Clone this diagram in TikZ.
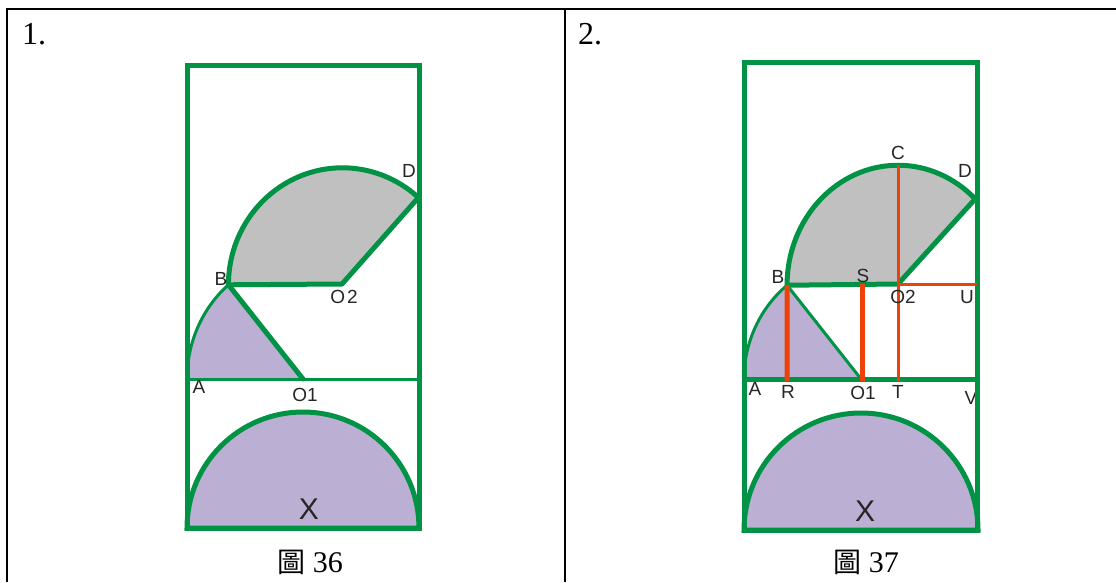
\documentclass[tikz,border=0pt]{standalone}
\usepackage{fontspec}
\setmainfont{Liberation Serif}
\newfontfamily\labfont{Liberation Sans}
\newfontfamily\cjkfont{Noto Sans CJK TC}
\definecolor{grn}{RGB}{0,146,69}
\definecolor{lav}{RGB}{187,176,212}
\definecolor{gry}{RGB}{192,192,192}
\definecolor{rd}{RGB}{236,66,10}
\begin{document}
\begin{tikzpicture}[x=1pt,y=-1pt,
 thickg/.style={draw=grn,line width=5pt},
 thing/.style={draw=grn,line width=3pt},
 thickr/.style={draw=rd,line width=5pt},
 thinr/.style={draw=rd,line width=3pt},
 lbl/.style={inner sep=0pt,text=black!85,font=\labfont\fontsize{19}{19}\selectfont},
 bigl/.style={inner sep=0pt,text=black!85,font=\labfont\fontsize{30}{30}\selectfont},
 numl/.style={inner sep=0pt,anchor=base west,font=\fontsize{32}{32}\selectfont},
 capl/.style={inner sep=0pt,anchor=base,font=\fontsize{30}{30}\selectfont},
 tbl/.style={draw=black,line width=2pt}]
\useasboundingbox (0,0) rectangle (1116,582);
% table
\coordinate (TL) at (7,9); \coordinate (TR) at (1116,9);
\coordinate (BL) at (7,582); \coordinate (MT) at (565,9); \coordinate (MB) at (565,582);
\draw[tbl] (BL) -- (TL) -- (TR);
\draw[tbl] (MT) -- (MB);
\node[numl] (n1) at (22,44) {1.};
\node[numl] (n2) at (578,44) {2.};
\node[capl] (c36) at (310,572) {{\cjkfont\fontsize{28}{28}\selectfont 圖} 36};
\node[capl] (c37) at (866,572) {{\cjkfont\fontsize{28}{28}\selectfont 圖} 37};

% ---------- figure 1 ----------
\coordinate (aO1) at (303,379); \coordinate (aA) at (187,379);
\fill[lav] (aO1) -- (aA) arc[start angle=180,end angle=230,x radius=116,y radius=123] coordinate (aB) -- cycle;
\draw[thing] (aA) arc[start angle=180,end angle=230,x radius=116,y radius=123];
\coordinate (aO2) at (342,284);
\filldraw[fill=gry,thickg,line join=round] (aO2) -- (aB) arc[start angle=180,end angle=311.8,x radius=114,y radius=117] coordinate (aD) -- cycle;
\draw[thickg,line cap=round] (aB) -- (aO1);
\coordinate (aXl) at (187,528);
\filldraw[fill=lav,thickg] (aXl) arc[start angle=180,end angle=360,radius=116] -- cycle;
\draw[thickg] (187,65) rectangle (419,528);
\coordinate (aL) at (187,379); \coordinate (aR) at (419,379);
\draw[thing] (aL) -- (aR);
\node[lbl] (laD) at (409,171) {D};
\node[lbl] (laB) at (221,279) {B};
\node[lbl] (laO2) at (344,297) {O\kern2pt2};
\node[lbl] (laA) at (199,387) {A};
\node[lbl] (laO1) at (305,395) {O1};
\node[bigl] (laX) at (309,509) {X};

% ---------- figure 2 ----------
\coordinate (bO1) at (861,379); \coordinate (bA) at (744,379);
\fill[lav] (bO1) -- (bA) arc[start angle=180,end angle=230.8,x radius=117,y radius=121] coordinate (bB) -- cycle;
\draw[thing] (bA) arc[start angle=180,end angle=230.8,x radius=117,y radius=121];
\coordinate (bO2) at (898,284);
\fill[gry] (bO2) -- (bB) arc[start angle=180,end angle=314,x radius=111,y radius=120] coordinate (bD) -- cycle;
\draw[thickg,line join=round] (bO2) -- (bB) arc[start angle=180,end angle=314,x radius=111,y radius=120] -- cycle;
\draw[thing,line cap=round] (bB) -- (bO1);
\coordinate (bXl) at (744,530);
\filldraw[fill=lav,thickg] (bXl) arc[start angle=180,end angle=360,radius=117] -- cycle;
\node[lbl] (lbV) at (971,398) {V};
\draw[thickg] (744,62) rectangle (977,530);
\coordinate (bL) at (744,379); \coordinate (bR) at (977,379);
\draw[thickg] (bL) -- (bR);
% red lines
\coordinate (bRr) at (787,381); \coordinate (bS) at (862,284); \coordinate (bSb) at (862,381);
\coordinate (bC) at (898,165); \coordinate (bT) at (898,381); \coordinate (bU) at (977,284);
\draw[thickr] (bB) -- (bRr);
\draw[thickr] (bS) -- (bSb);
\draw[thinr] (bC) -- (bT);
\draw[thinr] (bO2) -- (bU);
\node[lbl] (lbC) at (898,153) {C};
\node[lbl] (lbD) at (965,171) {D};
\node[lbl] (lbB) at (778,277) {B};
\node[lbl] (lbS) at (863,276) {S};
\node[lbl] (lbO2) at (903,297) {O2};
\node[lbl] (lbU) at (967,297) {U};
\node[lbl] (lbA) at (755,389) {A};
\node[lbl] (lbR) at (788,392) {R};
\node[lbl] (lbO1) at (863,393) {O1};
\node[lbl] (lbT) at (898,392) {T};
\node[bigl] (lbX) at (865,511) {X};
\end{tikzpicture}
\end{document}
